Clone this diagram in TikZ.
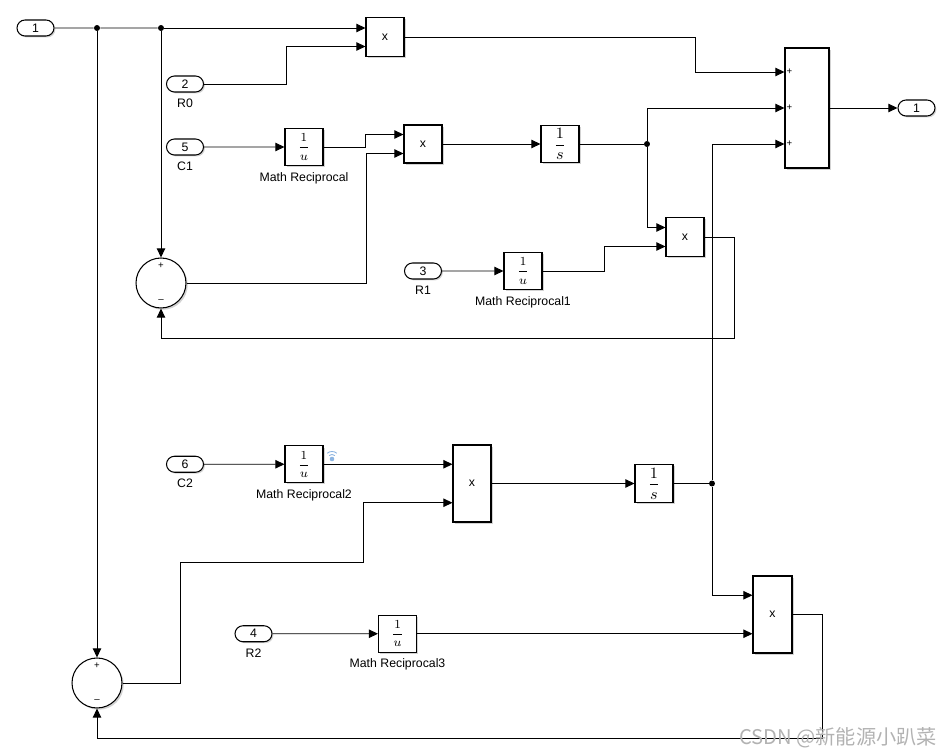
\documentclass[tikz,border=0pt]{standalone}
\usepackage{amsmath}
\usepackage{fontspec}
\setmainfont{Liberation Sans}
\newfontfamily\cjk{Noto Sans CJK SC}
\usepackage{xcolor}
\usepackage{tikz}
\usetikzlibrary{arrows.meta, positioning, calc, shapes.misc, shadows}
\definecolor{iconblue}{RGB}{140,180,225}
\tikzset{
  blk/.style   = {rectangle, draw, fill=white, line width=0.6pt,
                  minimum width=0.76cm, minimum height=0.76cm, inner sep=0pt,
                  font=\fontsize{7}{8}\selectfont,
                  drop shadow={shadow xshift=1pt, shadow yshift=-1pt,
                               opacity=0.35}},
  port/.style  = {rounded rectangle, draw, fill=white, line width=0.6pt,
                  minimum width=0.74cm, minimum height=0.32cm, inner sep=0pt,
                  font=\fontsize{7}{8}\selectfont,
                  drop shadow={shadow xshift=0.8pt, shadow yshift=-0.8pt,
                               opacity=0.35}},
  sumc/.style  = {circle, draw, fill=white, line width=0.6pt,
                  minimum size=1cm, inner sep=0pt,
                  drop shadow={shadow xshift=1pt, shadow yshift=-1pt,
                               opacity=0.35}},
  sig/.style   = {-{Triangle[length=5.2pt, width=4.8pt]}, line width=0.55pt},
  wire/.style  = {line width=0.55pt},
  jdot/.style  = {circle, fill, inner sep=0pt, minimum size=3.4pt},
  tag/.style   = {font=\fontsize{7}{8}\selectfont},
  sgn/.style   = {font=\fontsize{5.5}{6}\selectfont, inner sep=0pt},
}
\newcommand{\recip}{$\dfrac{1}{u}$}
\newcommand{\integ}{{\fontsize{9}{10}\selectfont$\dfrac{1}{s}$}}

\begin{document}
\begin{tikzpicture}[x=0.02cm, y=-0.02cm]
  \useasboundingbox (0,0) rectangle (951,756);

  % ---- Top row ----
  \node[port] (in1) at (35.5,28) {1};
  \node[jdot] (j1) at (97,28) {};
  \node[jdot] (j2) at (161,28) {};
  \node[blk, minimum height=0.78cm] (prod1) at (385,37) {x};
  \node[port, label={[tag]below:R0}] (in2) at (185,84) {2};

  \node[blk, minimum width=0.88cm, minimum height=2.4cm] (sum) at (807,108) {};
  \foreach \dy in {-36, 0, 36}
    \node[sgn] at ($(sum.west)+(5,\dy)$) {+};
  \node[port] (out1) at (916.5,108) {1};

  % ---- First stage ----
  \node[port, label={[tag]below:C1}] (in5) at (185,147) {5};
  \node[blk, minimum height=0.74cm, label={[tag]below:Math Reciprocal}]
        (rec1) at (304,147) {\recip};
  \node[blk] (prod2) at (423,144) {x};
  \node[blk, minimum height=0.74cm] (int1) at (560,144) {\integ};
  \node[jdot] (j3) at (647,144) {};
  \node[blk, minimum height=0.78cm] (prod3) at (685,237) {x};

  \node[port, label={[tag]below:R1}] (in3) at (423,271) {3};
  \node[blk, minimum height=0.74cm, label={[tag]below:Math Reciprocal1}]
        (rec2) at (523,271) {\recip};

  \node[sumc] (sumA) at (161,283) {};
  \node[sgn] at ($(sumA.north)+(0,8)$) {+};
  \node[sgn] at ($(sumA.south)+(0,-7)$) {--};

  % ---- Second stage ----
  \node[port, label={[tag]below:C2}] (in6) at (185,464.25) {6};
  \node[blk, minimum height=0.74cm, label={[tag]below:Math Reciprocal2}]
        (rec3) at (304,464.25) {\recip};
  \node[blk, minimum height=1.54cm] (prod4) at (472,483.5) {x};
  \node[blk] (int2) at (654,483.5) {\integ};
  \node[jdot] (j4) at (712,483.5) {};
  \node[blk, minimum width=0.78cm, minimum height=1.54cm]
        (prod5) at (772.5,614.5) {x};

  \node[port, label={[tag]below:R2}] (in4) at (253.5,633.75) {4};
  \node[blk, minimum height=0.74cm, label={[tag]below:Math Reciprocal3}]
        (rec4) at (397.5,633.75) {\recip};

  \node[sumc] (sumB) at (97,683) {};
  \node[sgn] at ($(sumB.north)+(0,8)$) {+};
  \node[sgn] at ($(sumB.south)+(0,-7)$) {--};

  % signal icon next to Math Reciprocal2
  \fill[iconblue] (332,459) circle (1.3pt);
  \draw[iconblue, line width=0.5pt] (332,459) ++(50:0.09cm)
        arc[start angle=50, end angle=130, radius=0.09cm];
  \draw[iconblue, line width=0.5pt] (332,459) ++(50:0.15cm)
        arc[start angle=50, end angle=130, radius=0.15cm];

  % ---- signals ----
  \draw[wire] (in1) -- (j1) -- (j2);
  \draw[sig] (j2) -- (j2 -| prod1.west);
  \draw[sig] (j1) -- (sumB.north);
  \draw[sig] (j2) -- (sumA.north);
  \draw[sig] (in2.east) -- ++(82,0) |- ($(prod1.west)+(0,9.5)$);
  \draw[sig] (prod1.east) -- ++(291,0) |- ($(sum.west)+(0,-36)$);
  \draw[sig] (sum.east) -- (out1.west);

  \draw[sig] (in5) -- (rec1);
  \draw[sig] (rec1.east) -- ++(42,0) |- ($(prod2.west)+(0,-9.5)$);
  \draw[sig] (sumA.east) -- ++(180,0) |- ($(prod2.west)+(0,9.5)$);
  \draw[sig] (prod2) -- (int1);
  \draw[wire] (int1.east) -- (j3);
  \draw[sig] (j3) |- (sum.west);
  \draw[sig] (j3) |- ($(prod3.west)+(0,-9.5)$);
  \draw[sig] (in3) -- (rec2);
  \draw[sig] (rec2.east) -- ++(62,0) |- ($(prod3.west)+(0,9.5)$);
  \draw[sig] (prod3.east) -- ++(30,0) |- ($(sumA.south)+(0,30)$) -- (sumA.south);

  \draw[sig] (in6) -- (rec3);
  \draw[sig] (rec3) -- (rec3 -| prod4.west);
  \draw[sig] (sumB.east) -- ++(58,0) |- ($(prod4.west)+(-89,78.5)$)
             |- ($(prod4.west)+(0,19.25)$);
  \draw[sig] (prod4) -- (int2);
  \draw[wire] (int2.east) -- (j4);
  \draw[sig] (j4) |- ($(sum.west)+(0,36)$);
  \draw[sig] (j4) |- ($(prod5.west)+(0,-19.25)$);
  \draw[sig] (in4) -- (rec4);
  \draw[sig] (rec4) -- (rec4 -| prod5.west);
  \draw[sig] (prod5.east) -- ++(30,0) |- ($(sumB.south)+(0,30)$) -- (sumB.south);

  % watermark
  \node[font=\cjk\fontsize{11.5}{12}\selectfont, text=gray!60] (wm)
        at (838,738) {CSDN @新能源小趴菜};

\end{tikzpicture}
\end{document}
